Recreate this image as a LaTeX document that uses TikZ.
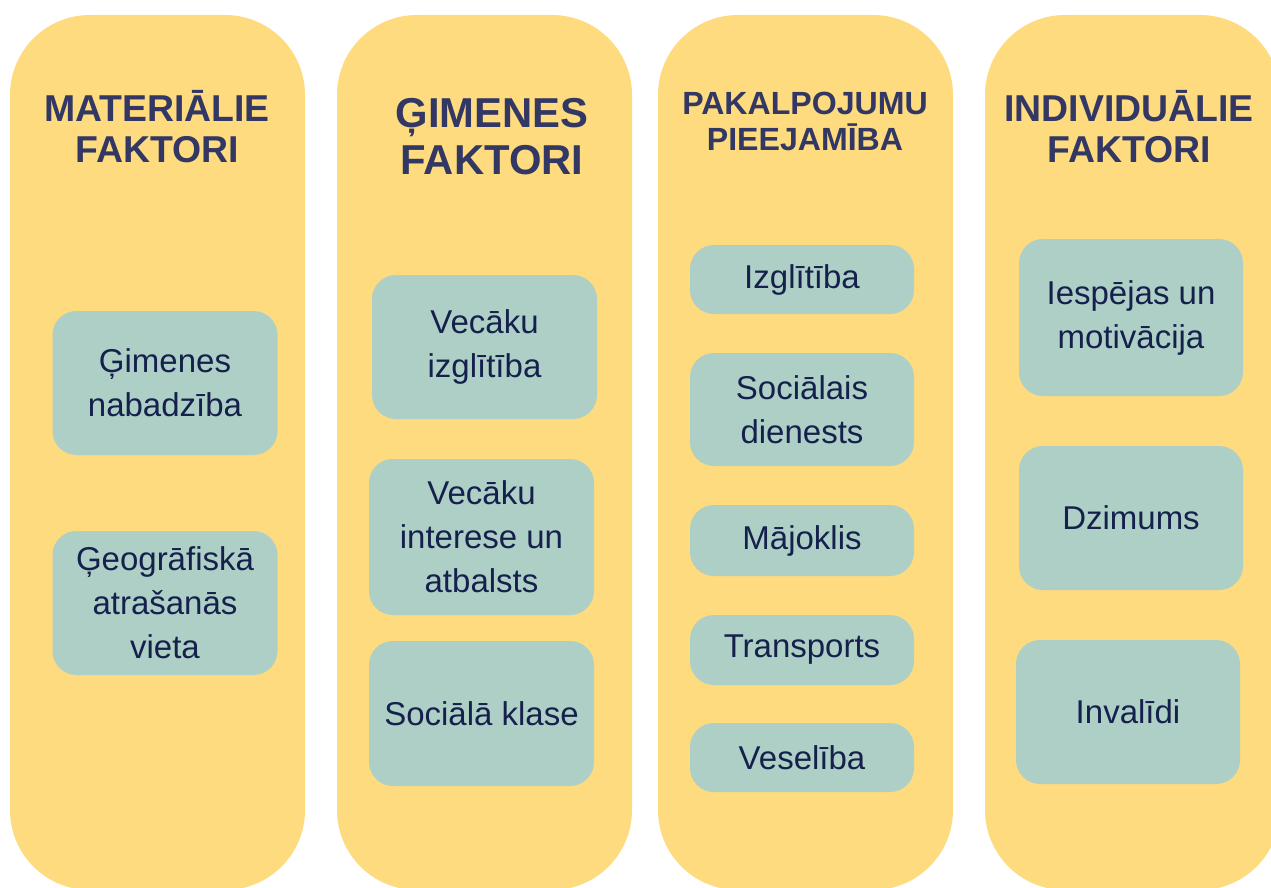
\documentclass[tikz,border=0pt]{standalone}
\usepackage{fontspec}
\setmainfont{Liberation Sans}
\definecolor{pill}{HTML}{FDDB7E}
\definecolor{boxc}{HTML}{AECFC6}
\definecolor{head}{HTML}{333764}
\definecolor{bodyc}{HTML}{15214C}
\begin{document}
\begin{tikzpicture}[x=1pt,y=-1pt,
  pillbox/.style={fill=pill, draw=none, rounded corners=80pt, inner sep=0pt, minimum width=295pt, minimum height=875pt},
  itembox/.style={fill=boxc, draw=none, rounded corners=24pt, text=bodyc, align=center,
    font=\fontsize{33}{44}\selectfont, inner sep=0pt, minimum width=225pt},
  headtxt/.style={text=head, align=center, inner sep=0pt}
]
\useasboundingbox (0,0) rectangle (1271,888);
\fill[white] (0,0) rectangle (1271,888);

% columns
\node[pillbox] (c1) at (157.5,452.5) {};
\node[pillbox] (c2) at (484.5,452.5) {};
\node[pillbox] (c3) at (805.5,452.5) {};
\node[pillbox] (c4) at (1132.5,452.5) {};

% headers
\node[headtxt, font=\bfseries\fontsize{37.4}{41}\selectfont] (h1) at (157,126.5) {MATERIĀLIE\\FAKTORI};
\node[headtxt, font=\bfseries\fontsize{41.8}{47}\selectfont] (h2) at (492,137) {ĢIMENES\\FAKTORI};
\node[headtxt, font=\bfseries\fontsize{32.1}{36}\selectfont] (h3) at (805,121.5) {PAKALPOJUMU\\PIEEJAMĪBA};
\node[headtxt, font=\bfseries\fontsize{37.4}{41}\selectfont] (h4) at (1129,126.5) {INDIVIDUĀLIE\\FAKTORI};

% column 1
\node[itembox, minimum height=144pt] (m1) at (165,383) {Ģimenes\\nabadzība};
\node[itembox, minimum height=144pt] (m2) at (165,603) {Ģeogrāfiskā\\atrašanās\\vieta};

% column 2
\node[itembox, minimum height=144pt] (g1) at (484.5,347) {Vecāku\\izglītība};
\node[itembox, minimum height=156pt] (g2) at (481.5,537) {Vecāku\\interese un\\atbalsts};
\node[itembox, minimum height=145pt] (g3) at (481.5,713.5) {Sociālā klase};

% column 3
\node[itembox, minimum width=224pt, minimum height=69pt] (p1) at (802,279.5) {Izglītība};
\node[itembox, minimum width=224pt, minimum height=113pt] (p2) at (802,409.5) {Sociālais\\dienests};
\node[itembox, minimum width=224pt, minimum height=71pt] (p3) at (802,540.5) {Mājoklis};
\node[itembox, minimum width=224pt, minimum height=70pt] (p4) at (802,650) {Transports};
\node[itembox, minimum width=224pt, minimum height=69pt] (p5) at (802,757.5) {Veselība};

% column 4
\node[itembox, minimum width=224pt, minimum height=157pt] (i1) at (1131,317.5) {Iespējas un\\motivācija};
\node[itembox, minimum width=224pt, minimum height=144pt] (i2) at (1131,518) {Dzimums};
\node[itembox, minimum width=224pt, minimum height=144pt] (i3) at (1128,712) {Invalīdi};
\end{tikzpicture}
\end{document}
